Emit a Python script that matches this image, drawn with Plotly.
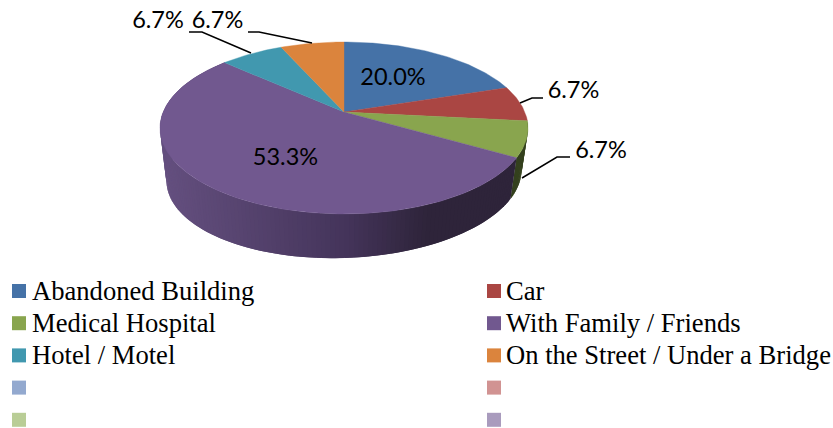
import math
import plotly.graph_objects as go

# ---- data ----
categories = ["Abandoned Building", "Car", "Medical Hospital", "With Family / Friends",
              "Hotel / Motel", "On the Street / Under a Bridge"]
counts = [3, 1, 1, 8, 1, 1]
colors = ["#4572A7", "#AA4643", "#89A54E", "#71588F", "#4198AF", "#DB843D"]
blank_colors = ["#93A9CF", "#D19392", "#B9CD96", "#A99BBD"]

# ---- pie geometry (perspective disc) ----
W, H = 833, 428
CX, CY = 344, 112
R, S, K = 180.8, 83.0, 0.186
BASE_SCALE, BASE_Y, BASE_SKEW = 0.965, 159.6, 0.03


def top(theta):
    u, v = math.sin(theta), math.cos(theta)
    w = 1 + K * v
    return CX + R * u / w, CY - S * v / w


def base(theta):
    u, v = math.sin(theta), math.cos(theta)
    w = 1 + K * v
    dx = BASE_SCALE * R * u / w
    return CX + dx, BASE_Y - BASE_SCALE * S * v / w - BASE_SKEW * dx


def arc(a0, a1, fn):
    n = max(2, int(abs(a1 - a0) / math.radians(1)) + 1)
    return [fn(a0 + (a1 - a0) * i / n) for i in range(n + 1)]


def lerp_hex(stops, t):
    for (t0, c0), (t1, c1) in zip(stops, stops[1:]):
        if t <= t1:
            f = max(0.0, (t - t0) / (t1 - t0))
            return "rgb(%d,%d,%d)" % tuple(round(a + (b - a) * f) for a, b in zip(c0, c1))
    return "rgb(%d,%d,%d)" % stops[-1][1]


total = sum(counts)
edges = [0.0]
for c in counts:
    edges.append(edges[-1] + 2 * math.pi * c / total)

fig = go.Figure()


def poly(pts, color, lw=0.0):
    fig.add_trace(go.Scatter(
        x=[p[0] for p in pts], y=[p[1] for p in pts], mode="lines",
        fill="toself", fillcolor=color, line=dict(color=color, width=lw),
        hoverinfo="skip", showlegend=False))


# side walls: overlapping strips, so no seams show between them
WALL = {
    2: [(0, (58, 70, 32)), (1, (52, 64, 30))],
    3: [(0, (101, 80, 128)), (0.5, (68, 52, 90)), (0.72, (46, 36, 58)), (1, (46, 36, 58))],
}
step = math.radians(1.25)
for idx in (2, 3):
    a0, a1 = edges[idx], edges[idx + 1]
    n = int((a1 - a0) / step) + 1
    da = (a1 - a0) / n
    for i in range(n):
        t0 = a0 + da * i
        t1 = min(a1, t0 + 2 * da)
        pts = arc(t0, t1, top) + arc(t1, t0, base)
        xm = sum(p[0] for p in pts) / len(pts)
        poly(pts + [pts[0]], lerp_hex(WALL[idx], (xm - 160) / 368))

# top faces
for i, col in enumerate(colors):
    pts = [(CX, CY)] + arc(edges[i], edges[i + 1], top) + [(CX, CY)]
    poly(pts, col, 0.4)

# leader lines
leaders = [
    [(520, 103), (532, 98), (543, 98)],
    [(522, 178), (557, 157), (570, 157)],
    [(251, 53), (202, 32), (189, 32)],
    [(312, 43), (259, 32), (248, 32)],
]
for ln in leaders:
    fig.add_trace(go.Scatter(x=[p[0] for p in ln], y=[p[1] for p in ln], mode="lines",
                             line=dict(color="black", width=1.5),
                             hoverinfo="skip", showlegend=False))

# data labels
label_pos = [(393, 79), (573.5, 92), (601, 152), (285.5, 159), (158, 22), (217.5, 22)]
fig.add_trace(go.Scatter(
    x=[p[0] for p in label_pos], y=[p[1] for p in label_pos], mode="text",
    text=[f"{100 * c / total:.1f}%" for c in counts], textposition="middle center",
    textfont=dict(family="Lato", size=23.5, color="black"),
    hoverinfo="skip", showlegend=False))

# legend (two columns, filled row by row)
legend_names = categories + [""] * len(blank_colors)
legend_colors = colors + blank_colors
COLS = (19, 494)
TEXT_COLS = (30, 504)
ROW0, ROWH = 291, 32.2
for i, (name, col) in enumerate(zip(legend_names, legend_colors)):
    ym = ROW0 + ROWH * (i // 2)
    fig.add_trace(go.Scatter(x=[COLS[i % 2]], y=[ym], mode="markers",
                             marker=dict(symbol="square", size=14, color=col, line=dict(width=0)),
                             name=name or " ", hoverinfo="skip", showlegend=False))
    if name:
        fig.add_annotation(x=TEXT_COLS[i % 2], y=ym, text=name, showarrow=False,
                           xanchor="left", yanchor="middle",
                           font=dict(family="Liberation Serif", size=26.6, color="black"))

fig.update_layout(
    width=W, height=H, margin=dict(l=0, r=0, t=0, b=0),
    paper_bgcolor="white", plot_bgcolor="white", showlegend=False,
    xaxis=dict(range=[0, W], visible=False, fixedrange=True),
    yaxis=dict(range=[H, 0], visible=False, fixedrange=True),
)
fig.write_html("out.html", config={"displayModeBar": False},
               post_script="document.body.style.margin='0';")
